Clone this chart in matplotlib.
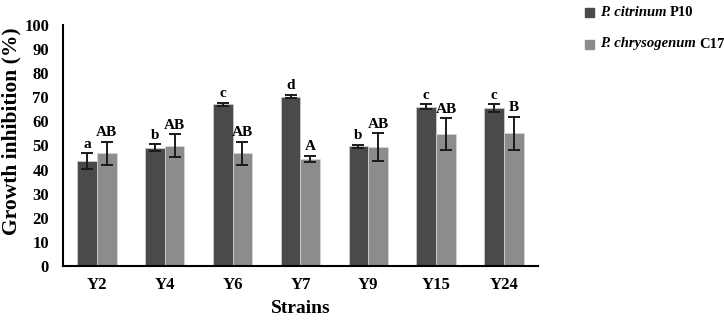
import matplotlib
matplotlib.use("Agg")
import matplotlib.pyplot as plt
from matplotlib.patches import Rectangle
import numpy as np

plt.rcParams["font.family"] = ["Liberation Serif", "DejaVu Serif"]
plt.rcParams["font.weight"] = "bold"

# ── Data ──────────────────────────────────────────────────────────────────────
strains = ["Y2", "Y4", "Y6", "Y7", "Y9", "Y15", "Y24"]
p10_vals = [43.6, 49.0, 67.0, 70.3, 49.6, 66.1, 65.6]
p10_err = [3.2, 1.5, 0.8, 0.7, 0.7, 0.9, 1.6]
p10_letters = ["a", "b", "c", "d", "b", "c", "c"]
c17_vals = [46.8, 49.9, 46.8, 44.4, 49.2, 54.8, 55.0]
c17_err = [4.8, 4.7, 4.8, 1.3, 5.8, 6.6, 7.0]
c17_letters = ["AB", "AB", "AB", "A", "AB", "AB", "B"]
yticks = list(range(0, 101, 10))
legend_species = ["P. citrinum", "P. chrysogenum"]
legend_codes = ["P10", "C17"]

dark = "#4a4a4a"
light = "#8c8c8c"

fig = plt.figure(figsize=(7.24, 3.2), dpi=100)
ax = fig.add_axes([0.087, 0.169, 0.656, 0.753])

x = np.arange(len(strains))
w = 0.29
ekw = dict(ecolor="#1a1a1a", elinewidth=1.4, capsize=4, capthick=1.4)
ax.bar(x - w / 2, p10_vals, w, yerr=p10_err, color=dark, edgecolor="#d0d0d0",
       linewidth=0.5, error_kw=ekw)
ax.bar(x + w / 2, c17_vals, w, yerr=c17_err, color=light, edgecolor="#d8d8d8",
       linewidth=0.5, error_kw=ekw)

for i in range(len(strains)):
    ax.text(x[i] - w / 2, p10_vals[i] + p10_err[i] + 1.0, p10_letters[i],
            ha="center", va="bottom", fontsize=11, fontweight="bold")
    ax.text(x[i] + w / 2, c17_vals[i] + c17_err[i] + 1.0, c17_letters[i],
            ha="center", va="bottom", fontsize=11, fontweight="bold")

ax.set_xlim(-0.5, len(strains) - 0.5)
ax.set_ylim(0, 100)
ax.set_yticks(yticks)
ax.set_xticks(x)
ax.set_xticklabels(strains)
ax.tick_params(length=0, labelsize=12, pad=8)
ax.tick_params(axis="y", pad=10)
for lab in ax.get_xticklabels() + ax.get_yticklabels():
    lab.set_fontweight("bold")

for s in ["top", "right"]:
    ax.spines[s].set_visible(False)
for s in ["left", "bottom"]:
    ax.spines[s].set_linewidth(1.5)
    ax.spines[s].set_color("black")

ax.set_ylabel("Growth inhibition (%)", fontsize=15.5, fontweight="bold")
ax.yaxis.set_label_coords(-0.088, 0.56)
ax.set_xlabel("Strains", fontsize=14, fontweight="bold", labelpad=5)

# legend drawn by hand so the species name can be bold italic
W, H = 724, 320
for k, (sp, code, col) in enumerate(zip(legend_species, legend_codes, [dark, light])):
    yc = 12 + 32 * k
    fig.patches.append(Rectangle((585 / W, (H - yc - 4.5) / H), 9 / W, 9 / H,
                                 transform=fig.transFigure, color=col))
    t = fig.text(600 / W, (H - yc) / H, sp, fontsize=10.5, fontstyle="italic",
                 fontweight="bold", va="center", ha="left")
    ax.annotate(code, xy=(1, 0.5), xycoords=t, xytext=(2.2, 0),
                textcoords="offset points", fontsize=10.5, fontweight="bold",
                va="center", ha="left", annotation_clip=False)

fig.savefig("out.png", dpi=100)
